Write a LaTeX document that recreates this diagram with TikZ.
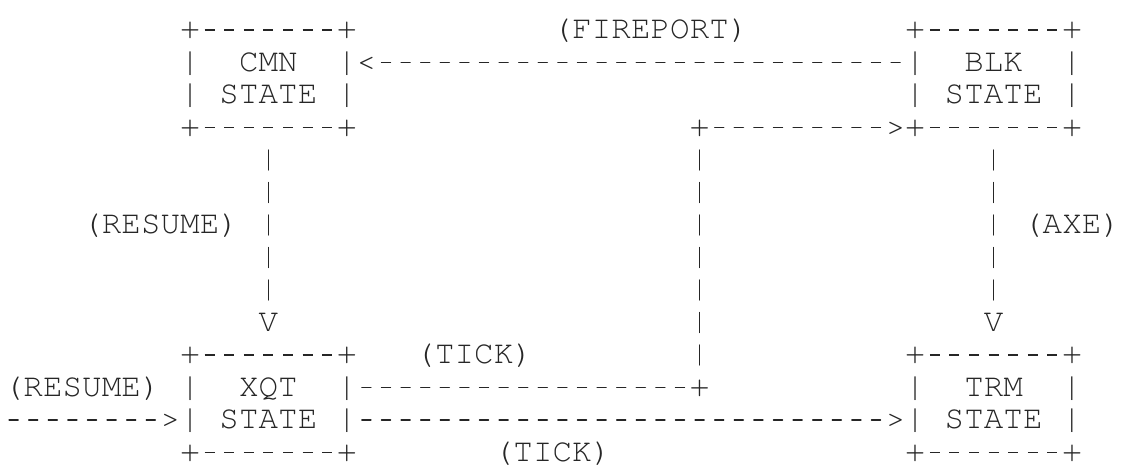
\documentclass[tikz,border=0pt]{standalone}
\usepackage{fontspec}
\setmonofont{texgyrecursor-regular}[Extension=.otf]
\usetikzlibrary{calc}

% Typewriter grid: every character sits in its own 19.6pt x 32.5pt cell.
\newcommand\asciirow[1]{\rule[-7.75pt]{0pt}{32.5pt}\asciirowA#1\relax}
\def\asciirowA#1{\ifx\relax#1\else\asciicell{#1}\expandafter\asciirowA\fi}
% a typed hyphen is a short bar, like the dashes of the connectors
\def\asciicell#1{\ifx-#1\makebox[19.6pt][c]{\color{black!85}\rule[7.8pt]{10pt}{1.4pt}}%
  \else\makebox[19.6pt][c]{#1}\fi}
% A four-line state box drawn with +, - and | characters.
\newcommand\boxlines[4]{\vtop{\baselineskip=32.5pt\lineskip=0pt\lineskiplimit=-100pt
  \hbox{\asciirow{#1}}\hbox{\asciirow{#2}}\hbox{\asciirow{#3}}\hbox{\asciirow{#4}}}}

\tikzset{
  asc/.style={font=\fontsize{32.5pt}{32.5pt}\selectfont\ttfamily, text=black!85,
    inner sep=0pt, outer sep=0pt},
  statebox/.style={asc, anchor=north west},
  tag/.style={asc, anchor=north west},
  junction/.style={asc, minimum width=19.6pt, minimum height=32.5pt},
  tipcell/.style={asc},
  % dashes drawn like typed hyphens, one per character cell
  hconn/.style={draw=black!85, line width=1.4pt, line cap=round,
    dash pattern=on 9pt off 10.6pt, dash phase=14.3pt, shorten >=19.6pt},
  % vertical strokes drawn like typed bars, one per line
  vconn/.style={draw=black!85, line width=1.4pt, line cap=round,
    dash pattern=on 20pt off 12.5pt, dash phase=26.25pt},
}

\begin{document}
\begin{tikzpicture}[x=1pt,y=-1pt]
\useasboundingbox[fill=white] (0,0) rectangle (1122,467);

% state boxes
\node[statebox] (cmn) at (180.2,13.75) {\boxlines{+-------+}{|~~CMN~~|}{|~STATE~|}{+-------+}};
\node[statebox] (blk) at (905.4,13.75) {\boxlines{+-------+}{|~~BLK~~|}{|~STATE~|}{+-------+}};
\node[statebox] (xqt) at (180.2,338.75) {\boxlines{+-------+}{|~~XQT~~|}{|~STATE~|}{+-------+}};
\node[statebox] (trm) at (905.4,338.75) {\boxlines{+-------+}{|~~TRM~~|}{|~STATE~|}{+-------+}};

% transition labels
\node[tag] (lfire) at (552.6,13.75) {\asciirow{(FIREPORT)}};
\node[tag] (lres1) at (82.2,208.75) {\asciirow{(RESUME)}};
\node[tag] (laxe) at (1023,208.75) {\asciirow{(AXE)}};
\node[tag] (ltick1) at (415.4,338.75) {\asciirow{(TICK)}};
\node[tag] (ltick2) at (493.8,436.25) {\asciirow{(TICK)}};
\node[tag] (lres2) at (3.8,371.25) {\asciirow{(RESUME)}};

% corners of the upper TICK route
\node[junction] (j1) at (699.6,387.5) {\asciirow{+}};
\node[junction] (j2) at (699.6,127.5) {\asciirow{+}};
\coordinate (in) at (3.8,420);

% transitions; the arrow head is the typed character in the last cell
\draw[hconn] ($(blk.west)+(0,-16.25)$) -- ($(cmn.east)+(0,-16.25)$)
  node[tipcell, anchor=west] (tfire) {\asciirow{<}};
\draw[vconn, shorten >=32.5pt] (cmn) -- (xqt.north)
  node[tipcell, anchor=south] (tres) {\asciirow{V}};
\draw[vconn, shorten >=32.5pt] (blk) -- (trm.north)
  node[tipcell, anchor=south] (taxe) {\asciirow{V}};
\draw[hconn] (in) -- ($(xqt.west)+(0,16.25)$)
  node[tipcell, anchor=east] (tin) {\asciirow{>}};
\draw[hconn, shorten >=0pt] ($(xqt.east)+(0,-16.25)$) -- (j1);
\draw[vconn] (j1) -- (j2);
\draw[hconn] (j2) -- ($(blk.south west)+(0,-16.25)$)
  node[tipcell, anchor=east] (ttick1) {\asciirow{>}};
\draw[hconn] ($(xqt.east)+(0,16.25)$) -- ($(trm.west)+(0,16.25)$)
  node[tipcell, anchor=east] (ttick2) {\asciirow{>}};
\end{tikzpicture}
\end{document}
